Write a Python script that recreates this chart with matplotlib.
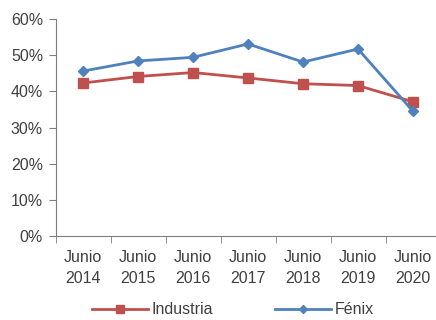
import numpy as np
from matplotlib import pyplot as plt
from matplotlib.ticker import FuncFormatter

plt.rcParams['font.family'] = ['Liberation Sans', 'DejaVu Sans']

# Data
years = ['Junio\n2014', 'Junio\n2015', 'Junio\n2016', 'Junio\n2017',
         'Junio\n2018', 'Junio\n2019', 'Junio\n2020']
industria = [42.3, 44.1, 45.2, 43.7, 42.1, 41.6, 37.1]
fenix = [45.6, 48.4, 49.4, 53.1, 48.1, 51.7, 34.5]

red = '#C0504D'
blue = '#4F81BD'
grey = '#7F7F7F'
txt = '#404040'

fig = plt.figure(figsize=(4.36, 3.2), dpi=100)
ax = fig.add_axes([55.5/436, 84/320, 385/436, 217/320])

x = np.arange(len(years))
ax.plot(x, industria, color=red, lw=2, marker='s', ms=7, label='Industria',
        clip_on=False)
ax.plot(x, fenix, color=blue, lw=2, marker='D', ms=5, label='Fénix',
        clip_on=False)

ax.set_ylim(0, 60)
ax.set_yticks(range(0, 61, 10))
ax.yaxis.set_major_formatter(FuncFormatter(lambda v, p: '%d%%' % v))
ax.set_xlim(-0.5, len(years) - 0.5)
ax.set_xticks(x)
ax.set_xticklabels(years, linespacing=1.5)
ax.set_xticks(np.arange(-0.5, len(years)), minor=True)
ax.tick_params(axis='x', which='major', length=0, pad=10)
ax.tick_params(axis='x', which='minor', length=5, color=grey, direction='out')
ax.tick_params(axis='y', length=5, color=grey, direction='out', pad=4)
ax.tick_params(labelsize=11.5, labelcolor=txt)

for s in ['top', 'right']:
    ax.spines[s].set_visible(False)
for s in ['left', 'bottom']:
    ax.spines[s].set_color(grey)

leg = ax.legend(loc='center', bbox_to_anchor=(233/436, 10/320),
                bbox_transform=fig.transFigure, ncol=2, frameon=False,
                fontsize=11.5, handlelength=3.5, columnspacing=3.9,
                labelcolor=txt, handletextpad=0.2, markerscale=0.9,
                borderpad=0, borderaxespad=0)

fig.savefig('out.png', dpi=100)
